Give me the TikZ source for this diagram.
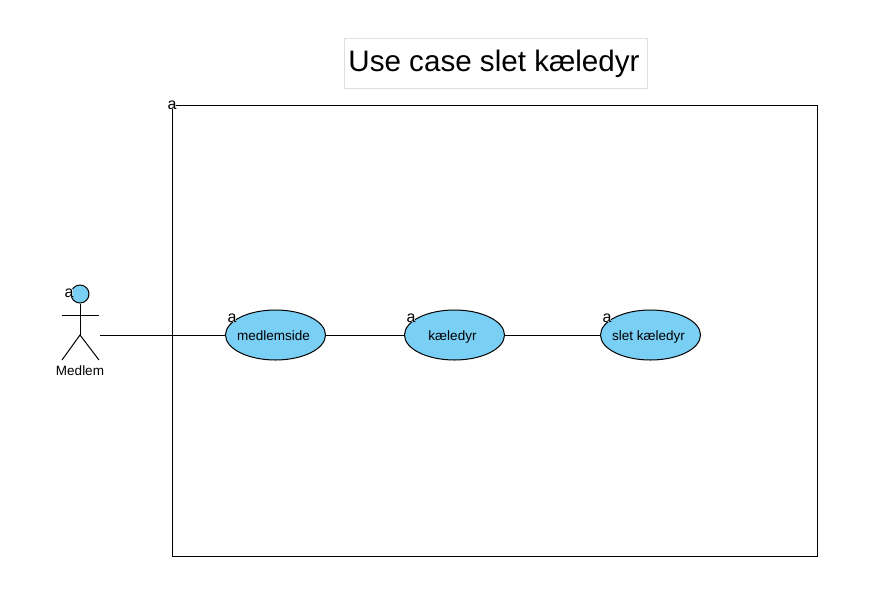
\documentclass[tikz,border=0pt]{standalone}
\usepackage{fontspec}
\setmainfont{Liberation Sans}
\usetikzlibrary{shapes.geometric}

\begin{document}
\begin{tikzpicture}[x=1pt,y=-1pt,
    usecase/.style={ellipse,draw=black,fill=ucblue,line width=1pt,minimum width=100pt,minimum height=50pt,inner sep=0pt,text height=11pt,text depth=0pt,execute at begin node={\hspace*{-4pt}},font=\fontsize{13.5}{15}\selectfont},
    marker/.style={fill=white,fill opacity=0.8,text opacity=1,inner sep=0pt,font=\fontsize{16}{16}\selectfont}]
      \definecolor{ucblue}{HTML}{7ACFF5}
      \useasboundingbox (0,0) rectangle (876,611);
      \node (title) [draw=black!13,line width=0.7pt,minimum width=303pt,minimum height=50pt,inner sep=0pt,execute at begin node={\hspace*{-4pt}},font=\fontsize{29.6}{32}\selectfont] at (496,63.5) {Use case slet kæledyr};
      \node (system) [draw=black,line width=1pt,minimum width=645pt,minimum height=451pt,inner sep=0pt] at (494.5,330.5) {};
      \node (head) [circle,draw=black,fill=ucblue,line width=1pt,minimum size=18pt,inner sep=0pt] at (80,294) {};
      \coordinate (neck) at (80,335);
      \coordinate (armL) at (62,315);
      \coordinate (armR) at (99,315);
      \coordinate (legL) at (62,360);
      \coordinate (legR) at (99,360);
      \coordinate (actorEnd) at (100,335);
      \node (medlem) [font=\fontsize{13.5}{15}\selectfont] at (80,370.5) {Medlem};
      \node (side) [usecase] at (275.5,335) {medlemside};
      \node (dyr) [usecase] at (454.5,335) {kæledyr};
      \node (slet) [usecase] at (650.5,335) {slet kæledyr};
      \begin{scope}[every path/.style={draw=black,line width=1pt}]
        \path (head) -- (neck);
        \path (armL) -- (armR);
        \path (legL) -- (neck) -- (legR);
        \path (actorEnd) -- (side);
        \path (side) -- (dyr);
        \path (dyr) -- (slet);
      \end{scope}
      \begin{scope}[every node/.style={marker}]
        \node (a1) at (172,105) {a};
        \node (a2) at (69,293) {a};
        \node (a3) at (232,318) {a};
        \node (a4) at (411,318) {a};
        \node (a5) at (607,318) {a};
      \end{scope}
    \end{tikzpicture}
\end{document}
